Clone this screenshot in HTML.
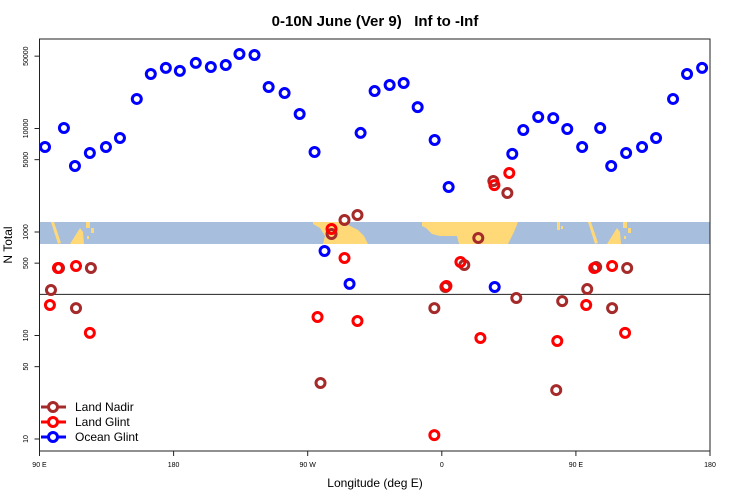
<!DOCTYPE html>
<html><head><meta charset="utf-8"><style>
body{margin:0;background:#fff}
svg{display:block;font-family:"Liberation Sans",sans-serif}
</style></head><body>
<svg id="chart" width="750" height="500">
<defs><clipPath id="bandclip"><rect x="39.5" y="222" width="670.5" height="22"/></clipPath></defs>
<text x="375" y="26" text-anchor="middle" font-size="15" font-weight="bold" style="white-space:pre">0-10N June (Ver 9)   Inf to -Inf</text>
<g clip-path="url(#bandclip)">
<rect x="39.5" y="222" width="670.5" height="22" fill="#a7bedc"/>
<g id="asia" fill="#ffd978">
<rect x="557" y="222" width="3" height="8"/><rect x="561" y="226" width="2" height="3"/>
<polygon points="588,222 591,222 598,243 595,244"/>
<polygon points="607,244 617,228 620,232 621,244"/>
<rect x="623" y="222" width="4" height="6"/><rect x="628" y="228" width="3" height="5"/><rect x="624" y="236" width="2" height="3"/>
</g>
<use href="#asia" transform="translate(-537,0)"/>
<polygon fill="#ffd978" points="313,222 345,222 350,226 358,230 364,236 368,244 323,244 325,236 320,228 313,224"/>
<polygon fill="#ffd978" points="422,222 518,222 514,232 508,244 459,244 457,236 440,236 432,234 426,228 422,226"/>
</g>
<g id="marks"></g>
<rect x="39.5" y="39" width="670.5" height="412" fill="none" stroke="#222" stroke-width="1"/>
<g id="axes"></g>
<text x="375" y="487" text-anchor="middle" font-size="12">Longitude (deg E)</text>
<text x="0" y="0" transform="translate(12,245) rotate(-90)" text-anchor="middle" font-size="12">N Total</text>
<g font-size="12">
<g><line x1="41" y1="407" x2="66" y2="407" stroke="#a52a2a" stroke-width="3"/><circle cx="53" cy="407" r="4.5" fill="#fff" stroke="#a52a2a" stroke-width="3"/><text x="75" y="411">Land Nadir</text></g>
<g><line x1="41" y1="422" x2="66" y2="422" stroke="#ff0000" stroke-width="3"/><circle cx="53" cy="422" r="4.5" fill="#fff" stroke="#ff0000" stroke-width="3"/><text x="75" y="426">Land Glint</text></g>
<g><line x1="41" y1="437" x2="66" y2="437" stroke="#0000ff" stroke-width="3"/><circle cx="53" cy="437" r="4.5" fill="#fff" stroke="#0000ff" stroke-width="3"/><text x="75" y="441">Ocean Glint</text></g>
</g>
</svg>
<script>
// longitudes unwrapped (degrees east, 90..540)
const oceanLon=[93.7,106.4,113.8,123.8,134.6,144,155.3,164.7,174.8,184.2,194.9,205,215,224.2,234.3,243.8,254.5,264.6,274.6,281.3,298.1,305.5,314.9,325,334.4,343.8,355.2,364.6,395.5,407.3,414.7,424.7,434.8,444.2,454.2,466.3,473.7,483.7,494.4,503.8,515.2,524.6,534.7];
const oceanVal=[6620,10100,4340,5800,6620,8090,19300,33600,38500,36000,43000,39300,41100,52500,51300,25200,22000,13800,5930,655,315,9060,23000,26300,27500,16100,7740,2720,294,5680,9680,12900,12600,9890,6620,10100,4340,5800,6620,8090,19300,33600,38500];
const nadirLon=[97.7,103.1,114.5,124.5,278.6,286,294.7,303.4,355,362.4,375.1,384.5,394.6,404,410,436.8,440.8,457.6,463.6,474.3,484.4];
const nadirVal=[275,449,184,449,34.8,957,1306,1460,184,294,480,875,3110,2380,230,29.7,215,281,459,184,449];
const glintLon=[97,102.4,114.5,123.8,276.6,286,294.7,303.4,363.1,372.5,385.9,395.3,405.3,437.5,456.9,462.3,474.3,483,355];
const glintVal=[197,449,469,106,151,1070,561,138,301,513,94.6,2840,3720,88.5,197,449,469,106,10.9];
const xTickLon=[90,180,270,360,450,540];
const xTickLabels=["90 E","180","90 W","0","90 E","180"];
const yTickVals=[10,50,100,500,1000,5000,10000,50000];
const refLine=250;

const NS="http://www.w3.org/2000/svg";
const X=l=>39.5+(l-90)*670.5/450;
const Y=v=>439-103.5*(Math.log10(v)-1);
const marks=document.getElementById('marks'), axes=document.getElementById('axes');
function mk(tag,attrs,parent){const e=document.createElementNS(NS,tag);for(const k in attrs)e.setAttribute(k,attrs[k]);parent.appendChild(e);return e;}

const rl=mk('line',{x1:39.5,x2:710,y1:Y(refLine),y2:Y(refLine),stroke:'#222','stroke-width':1},marks);



function series(lons,vals,color,name){
  const g=mk('g',{},marks);
  
  
  lons.forEach((l,i)=>{
    const c=mk('circle',{cx:X(l),cy:Y(vals[i]),r:4.5,fill:'none',stroke:color,'stroke-width':3},g);
    
    
  });
}
series(oceanLon,oceanVal,'#0000ff','ocean-glint');
series(nadirLon,nadirVal,'#a52a2a','land-nadir');
series(glintLon,glintVal,'#ff0000','land-glint');

xTickLon.forEach((l,i)=>{
  const t=mk('line',{x1:X(l),x2:X(l),y1:451,y2:456,stroke:'#222'},axes);
  
  
  const tx=mk('text',{x:X(l),y:467,'text-anchor':'middle','font-size':7},axes);
  tx.textContent=xTickLabels[i];
  
  
});
yTickVals.forEach(v=>{
  const t=mk('line',{x1:34.5,x2:39.5,y1:Y(v),y2:Y(v),stroke:'#222'},axes);
  
  
  const tx=mk('text',{x:0,y:0,transform:`translate(28,${Y(v)}) rotate(-90)`,'text-anchor':'middle','font-size':7},axes);
  tx.textContent=String(v);
  
  
});
</script>
</body></html>
